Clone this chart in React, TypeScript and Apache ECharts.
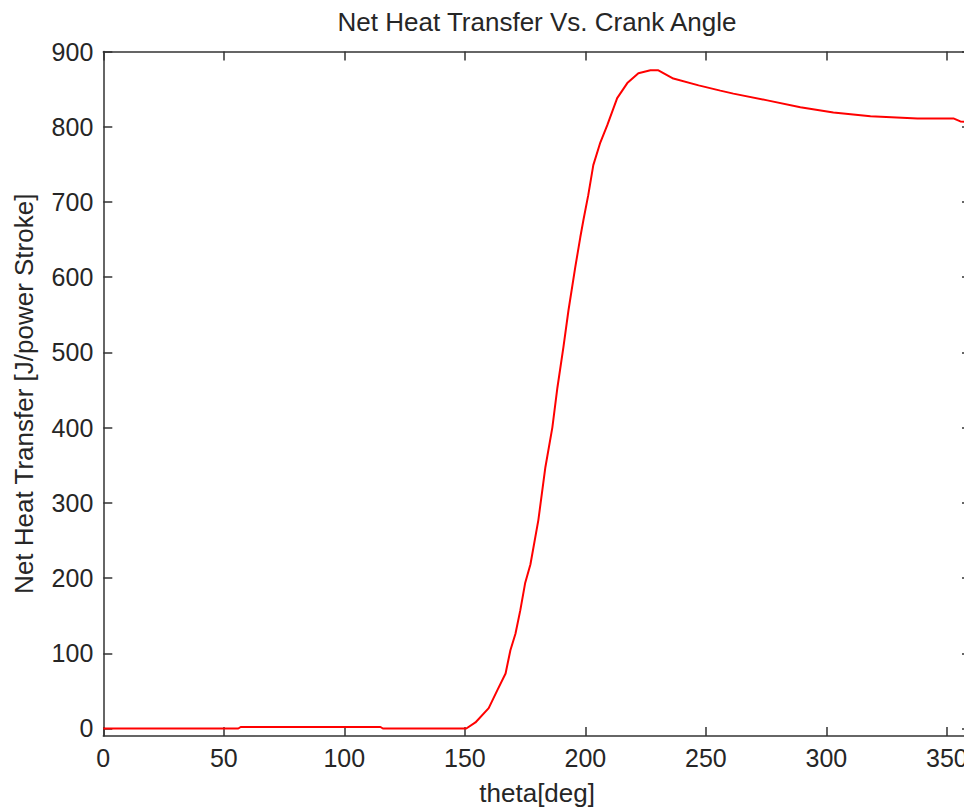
import React, { useEffect, useRef } from "react";
import * as echarts from "echarts";

const chartTitle = "Net Heat Transfer Vs. Crank Angle";
const xName = "theta[deg]";
const yName = "Net Heat Transfer [J/power Stroke]";

const yTicks = [0, 100, 200, 300, 400, 500, 600, 700, 800, 900];

const theta = [
  0, 56, 57, 115, 116, 150.6, 154.4, 159.9, 163.5, 166.9, 168.9, 171, 173, 175,
  177.2, 180.5, 183.4, 186.3, 188.4, 190.9, 193, 195.8, 197.9, 199.2, 201.2,
  203.3, 206.2, 209.1, 213.2, 217.4, 222, 227, 230.3, 236.5, 247, 256, 261.4,
  275.5, 289.2, 302.9, 318.3, 337.8, 352.7, 355.6, 360,
];
const netHeat = [
  0, 0, 2, 2, 0, 0, 8, 27, 51, 73, 104, 126, 157, 193, 218, 277, 347, 400, 453,
  507, 556, 613, 653, 676, 709, 749, 779, 802, 838, 858, 871, 875, 875, 864,
  855, 848, 844, 835, 826, 819, 814, 811, 811, 807, 806,
];

const FONT = "'Liberation Sans', Arial, sans-serif";
const AX = "#333333";

export default function App() {
  const ref = useRef<HTMLDivElement>(null);
  useEffect(() => {
    if (!ref.current) return;
    const chart = echarts.init(ref.current, undefined, { renderer: "svg" });
    const axisLine = { show: true, onZero: false, lineStyle: { color: AX, width: 1.5 } };
    const tick = { show: true, inside: true, length: 9, lineStyle: { color: AX, width: 1.5 } };
    chart.setOption({
      animation: false,
      backgroundColor: "#ffffff",
      title: {
        text: chartTitle,
        left: 537,
        top: 9,
        textAlign: "center",
        padding: 0,
        textStyle: { fontFamily: FONT, fontSize: 26, fontWeight: "normal", color: "#262626" },
      },
      grid: {
        left: 103.3,
        top: 51.5,
        width: 867.7,
        height: 684.5,
        containLabel: false,
        outerBoundsMode: "none",
      },
      xAxis: [
        {
          type: "value",
          min: 0,
          max: 360,
          interval: 50,
          name: xName,
          nameLocation: "middle",
          nameGap: 44,
          nameTextStyle: { fontFamily: FONT, fontSize: 26, color: "#262626" },
          axisLine,
          axisTick: tick,
          splitLine: { show: false },
          axisLabel: {
            showMaxLabel: false,
            margin: 9,
            fontFamily: FONT,
            fontSize: 25,
            color: "#262626",
          },
        },
        {
          type: "value",
          position: "top",
          min: 0,
          max: 360,
          interval: 50,
          axisLine,
          axisTick: tick,
          splitLine: { show: false },
          axisLabel: { show: false },
        },
      ],
      yAxis: [
        {
          type: "value",
          min: -10,
          max: 900,
          name: yName,
          nameLocation: "middle",
          nameGap: 66,
          nameTextStyle: { fontFamily: FONT, fontSize: 26, color: "#262626" },
          axisLine,
          axisTick: { ...tick, customValues: yTicks },
          splitLine: { show: false },
          axisLabel: {
            customValues: yTicks,
            margin: 10,
            fontFamily: FONT,
            fontSize: 25,
            color: "#262626",
          },
        },
        {
          type: "value",
          position: "right",
          min: -10,
          max: 900,
          axisLine,
          axisTick: { ...tick, customValues: yTicks },
          splitLine: { show: false },
          axisLabel: { show: false, customValues: yTicks },
        },
      ],
      series: [
        {
          type: "line",
          data: theta.map((t, i) => [t, netHeat[i]]),
          showSymbol: false,
          symbol: "none",
          lineStyle: { color: "#ff0000", width: 2 },
          clip: true,
        },
      ],
    });
    return () => chart.dispose();
  }, []);
  return (
    <div
      style={{
        position: "fixed",
        left: 0,
        top: 0,
        width: 964,
        height: 807,
        overflow: "hidden",
        background: "#fff",
      }}
    >
      <div ref={ref} style={{ width: 1010, height: 807 }} />
    </div>
  );
}
